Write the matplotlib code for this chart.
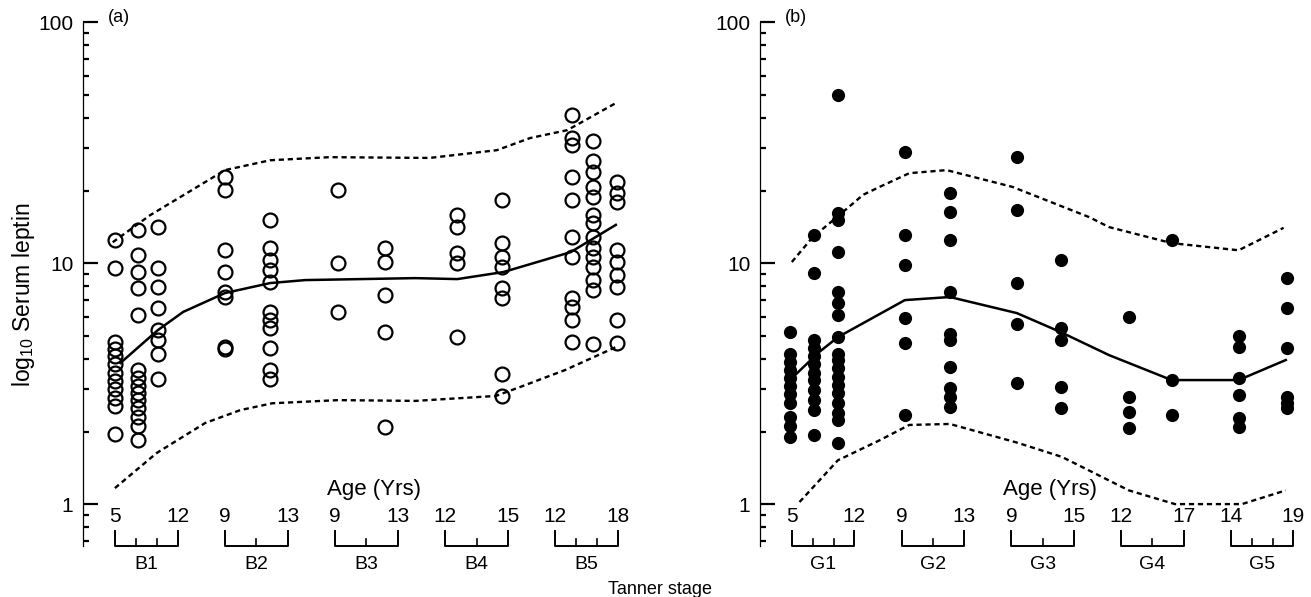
import numpy as np
import matplotlib
matplotlib.use('Agg')
import matplotlib.pyplot as plt
from matplotlib.ticker import FixedLocator, NullFormatter

plt.rcParams['font.family'] = ['Liberation Sans', 'DejaVu Sans']
plt.rcParams['mathtext.fontset'] = 'custom'
plt.rcParams['mathtext.rm'] = 'Liberation Sans'

# ---- panel (a): breast stages, open circles ----
stages_a = ['B1', 'B2', 'B3', 'B4', 'B5']
ages_a = [('5', '12'), ('9', '13'), ('9', '13'), ('12', '15'), ('12', '18')]
inner_a = [[1/3, 2/3], [0.5], [0.5], [0.5], [1/3, 2/3]]

cols_a_x = [0.0, 0.21, 0.39, 1.0, 1.41, 2.03, 2.45, 3.11, 3.52, 4.15, 4.34, 4.56]
cols_a_y = [
    [12.5, 9.5, 4.7, 4.4, 4.1, 3.8, 3.5, 3.25, 3.0, 2.75, 2.55, 1.95],
    [13.7, 10.8, 9.2, 7.9, 6.1, 3.6, 3.35, 3.1, 2.9, 2.7, 2.5, 2.3, 2.1, 1.85],
    [14.1, 9.5, 7.95, 6.5, 5.3, 4.8, 4.2, 3.3],
    [22.7, 20.1, 11.3, 9.2, 7.6, 7.2, 4.5, 4.4],
    [15.1, 11.5, 10.3, 9.35, 8.35, 6.25, 5.8, 5.4, 4.45, 3.6, 3.3],
    [20.1, 10.0, 6.25],
    [11.5, 10.1, 7.4, 5.2, 2.08],
    [15.8, 14.1, 11.0, 10.0, 4.95],
    [18.3, 12.1, 10.6, 9.6, 7.9, 7.15, 3.45, 2.8],
    [41.0, 33.0, 31.0, 22.7, 18.3, 12.8, 10.6, 7.15, 6.6, 5.8, 4.7],
    [32.0, 26.5, 23.8, 20.7, 18.8, 15.8, 14.6, 12.8, 11.6, 10.6, 9.6, 8.5, 7.7, 4.6],
    [21.6, 19.5, 17.9, 11.3, 10.1, 8.9, 7.95, 5.8, 4.66],
]

mean_a_x = [0.05, 0.39, 0.62, 1.0, 1.41, 1.73, 2.73, 3.11, 3.53, 4.14, 4.55]
mean_a_y = [3.85, 5.27, 6.27, 7.51, 8.26, 8.5, 8.66, 8.58, 9.18, 11.1, 14.4]
upper_a_x = [-0.02, 0.32, 0.62, 1.0, 1.41, 1.95, 2.86, 3.47, 3.77, 4.11, 4.55]
upper_a_y = [12.2, 15.8, 19.1, 24.3, 26.7, 27.5, 27.3, 29.4, 33.0, 35.6, 46.1]
lower_a_x = [0.0, 0.38, 0.82, 1.14, 1.43, 2.03, 2.73, 3.46, 3.68, 4.09, 4.55]
lower_a_y = [1.165, 1.63, 2.17, 2.455, 2.62, 2.70, 2.68, 2.81, 3.06, 3.60, 4.48]

# ---- panel (b): genital stages, filled circles ----
stages_b = ['G1', 'G2', 'G3', 'G4', 'G5']
ages_b = [('5', '12'), ('9', '13'), ('9', '15'), ('12', '17'), ('14', '19')]
inner_b = [[1/3, 2/3], [0.5], [0.5], [0.5], [1/3, 2/3]]

cols_b_x = [-0.02, 0.2, 0.42, 1.03, 1.44, 2.05, 2.45, 3.07, 3.46, 4.07, 4.51]
cols_b_y = [
    [5.2, 4.2, 3.88, 3.6, 3.33, 3.1, 2.86, 2.63, 2.3, 2.1, 1.9],
    [13.1, 9.1, 4.8, 4.45, 4.1, 3.8, 3.5, 3.27, 2.97, 2.7, 2.45, 1.93],
    [49.7, 16.1, 15.1, 11.1, 7.6, 6.8, 6.1, 4.95, 4.2, 3.95, 3.67, 3.37,
     3.12, 2.9, 2.63, 2.38, 2.23, 1.8],
    [28.9, 13.1, 9.8, 5.9, 4.66, 2.34],
    [19.5, 16.3, 12.5, 7.6, 5.1, 4.8, 3.7, 3.03, 2.78, 2.53],
    [27.5, 16.6, 8.3, 5.6, 3.18],
    [10.3, 5.4, 4.8, 3.06, 2.5],
    [5.97, 2.78, 2.41, 2.07],
    [12.5, 3.27, 2.34],
    [5.0, 4.5, 3.33, 2.84, 2.27, 2.08],
    [8.67, 6.5, 4.45, 2.78, 2.63, 2.5],
]

mean_b_x = [0.03, 0.24, 0.42, 1.03, 1.44, 2.05, 2.45, 2.89, 3.46, 4.07, 4.5]
mean_b_y = [3.43, 4.24, 4.93, 7.02, 7.23, 6.2, 5.17, 4.15, 3.27, 3.27, 3.96]
upper_b_x = [0.0, 0.19, 0.41, 0.65, 0.8, 1.07, 1.41, 2.01, 2.71, 2.89, 3.46, 4.07, 4.48]
upper_b_y = [10.1, 12.8, 15.5, 19.2, 20.7, 23.6, 24.3, 20.7, 15.5, 14.1, 12.1, 11.3, 14.0]
lower_b_x = [0.07, 0.42, 0.8, 1.07, 1.44, 2.05, 2.46, 3.07, 3.49, 4.1, 4.5]
lower_b_y = [1.02, 1.52, 1.84, 2.13, 2.15, 1.8, 1.57, 1.14, 1.0, 1.0, 1.14]

BW = 0.57  # bracket width in x units


def draw_panel(ax, cols_x, cols_y, mx, my, ux, uy, lx, ly,
               stages, ages, inner, letter, filled):
    for x, ys in zip(cols_x, cols_y):
        if filled:
            ax.plot([x] * len(ys), ys, 'o', color='k', ms=9.5, mew=0)
        else:
            ax.plot([x] * len(ys), ys, 'o', mfc='none', mec='k', ms=10, mew=1.6)
    ax.plot(mx, my, 'k-', lw=1.8)
    ax.plot(ux, uy, color='k', lw=1.7, ls=(0, (2.2, 1.6)))
    ax.plot(lx, ly, color='k', lw=1.7, ls=(0, (2.2, 1.6)))

    ax.set_yscale('log')
    ax.set_ylim(0.67, 100)
    ax.yaxis.set_major_locator(FixedLocator([1, 10, 100]))
    ax.set_yticklabels(['1', '10', '100'])
    minors = [v * d for d in (0.1, 1, 10) for v in range(2, 10)]
    ax.yaxis.set_minor_locator(FixedLocator(minors))
    ax.yaxis.set_minor_formatter(NullFormatter())
    ax.tick_params(axis='y', which='major', direction='in', length=11,
                   width=1.6, pad=7, labelsize=15)
    ax.tick_params(axis='y', which='minor', direction='in', length=4, width=1.6)
    ax.set_xticks([])
    for s in ('top', 'right', 'bottom'):
        ax.spines[s].set_visible(False)
    ax.spines['left'].set_linewidth(0.9)

    trans = ax.get_xaxis_transform()
    for g, (st, (a0, a1), ticks) in enumerate(zip(stages, ages, inner)):
        x0, x1 = g, g + BW
        ax.plot([x0, x0, x1, x1], [0.028, 0, 0, 0.028], transform=trans,
                color='k', lw=1.4, clip_on=False)
        for f in ticks:
            ax.plot([x0 + f * BW] * 2, [0, 0.014], transform=trans,
                    color='k', lw=1.2, clip_on=False)
        ax.text(x0, 0.057, a0, transform=trans, ha='center', va='center', fontsize=15)
        ax.text(x1, 0.057, a1, transform=trans, ha='center', va='center', fontsize=15)
        ax.text(x0 + BW / 2, -0.036, st, transform=trans, ha='center',
                va='center', fontsize=14, clip_on=False)
    ax.text(2.35, 0.108, 'Age (Yrs)', transform=trans, ha='center',
            va='center', fontsize=16)
    ax.text(0.045, 1.008, letter, transform=ax.transAxes, ha='left',
            va='center', fontsize=13)


fig = plt.figure(figsize=(13.11, 5.97), dpi=100)
ax1 = fig.add_axes([0.0633, 0.0854, 0.4249, 0.8777])
ax2 = fig.add_axes([0.5797, 0.0854, 0.4195, 0.8777])
ax1.set_xlim(-0.29, 4.77)
ax2.set_xlim(-0.29, 4.72)

draw_panel(ax1, cols_a_x, cols_a_y, mean_a_x, mean_a_y, upper_a_x, upper_a_y,
           lower_a_x, lower_a_y, stages_a, ages_a, inner_a, '(a)', False)
draw_panel(ax2, cols_b_x, cols_b_y, mean_b_x, mean_b_y, upper_b_x, upper_b_y,
           lower_b_x, lower_b_y, stages_b, ages_b, inner_b, '(b)', True)

fig.text(24 / 1311, 1 - 295 / 597, r'log$_{10}$ Serum leptin', rotation=90,
         ha='center', va='center', fontsize=16.5)
fig.text(660 / 1311, 1 - 590 / 597, 'Tanner stage', ha='center', va='center',
         fontsize=13)

fig.savefig('out.png', dpi=100)
